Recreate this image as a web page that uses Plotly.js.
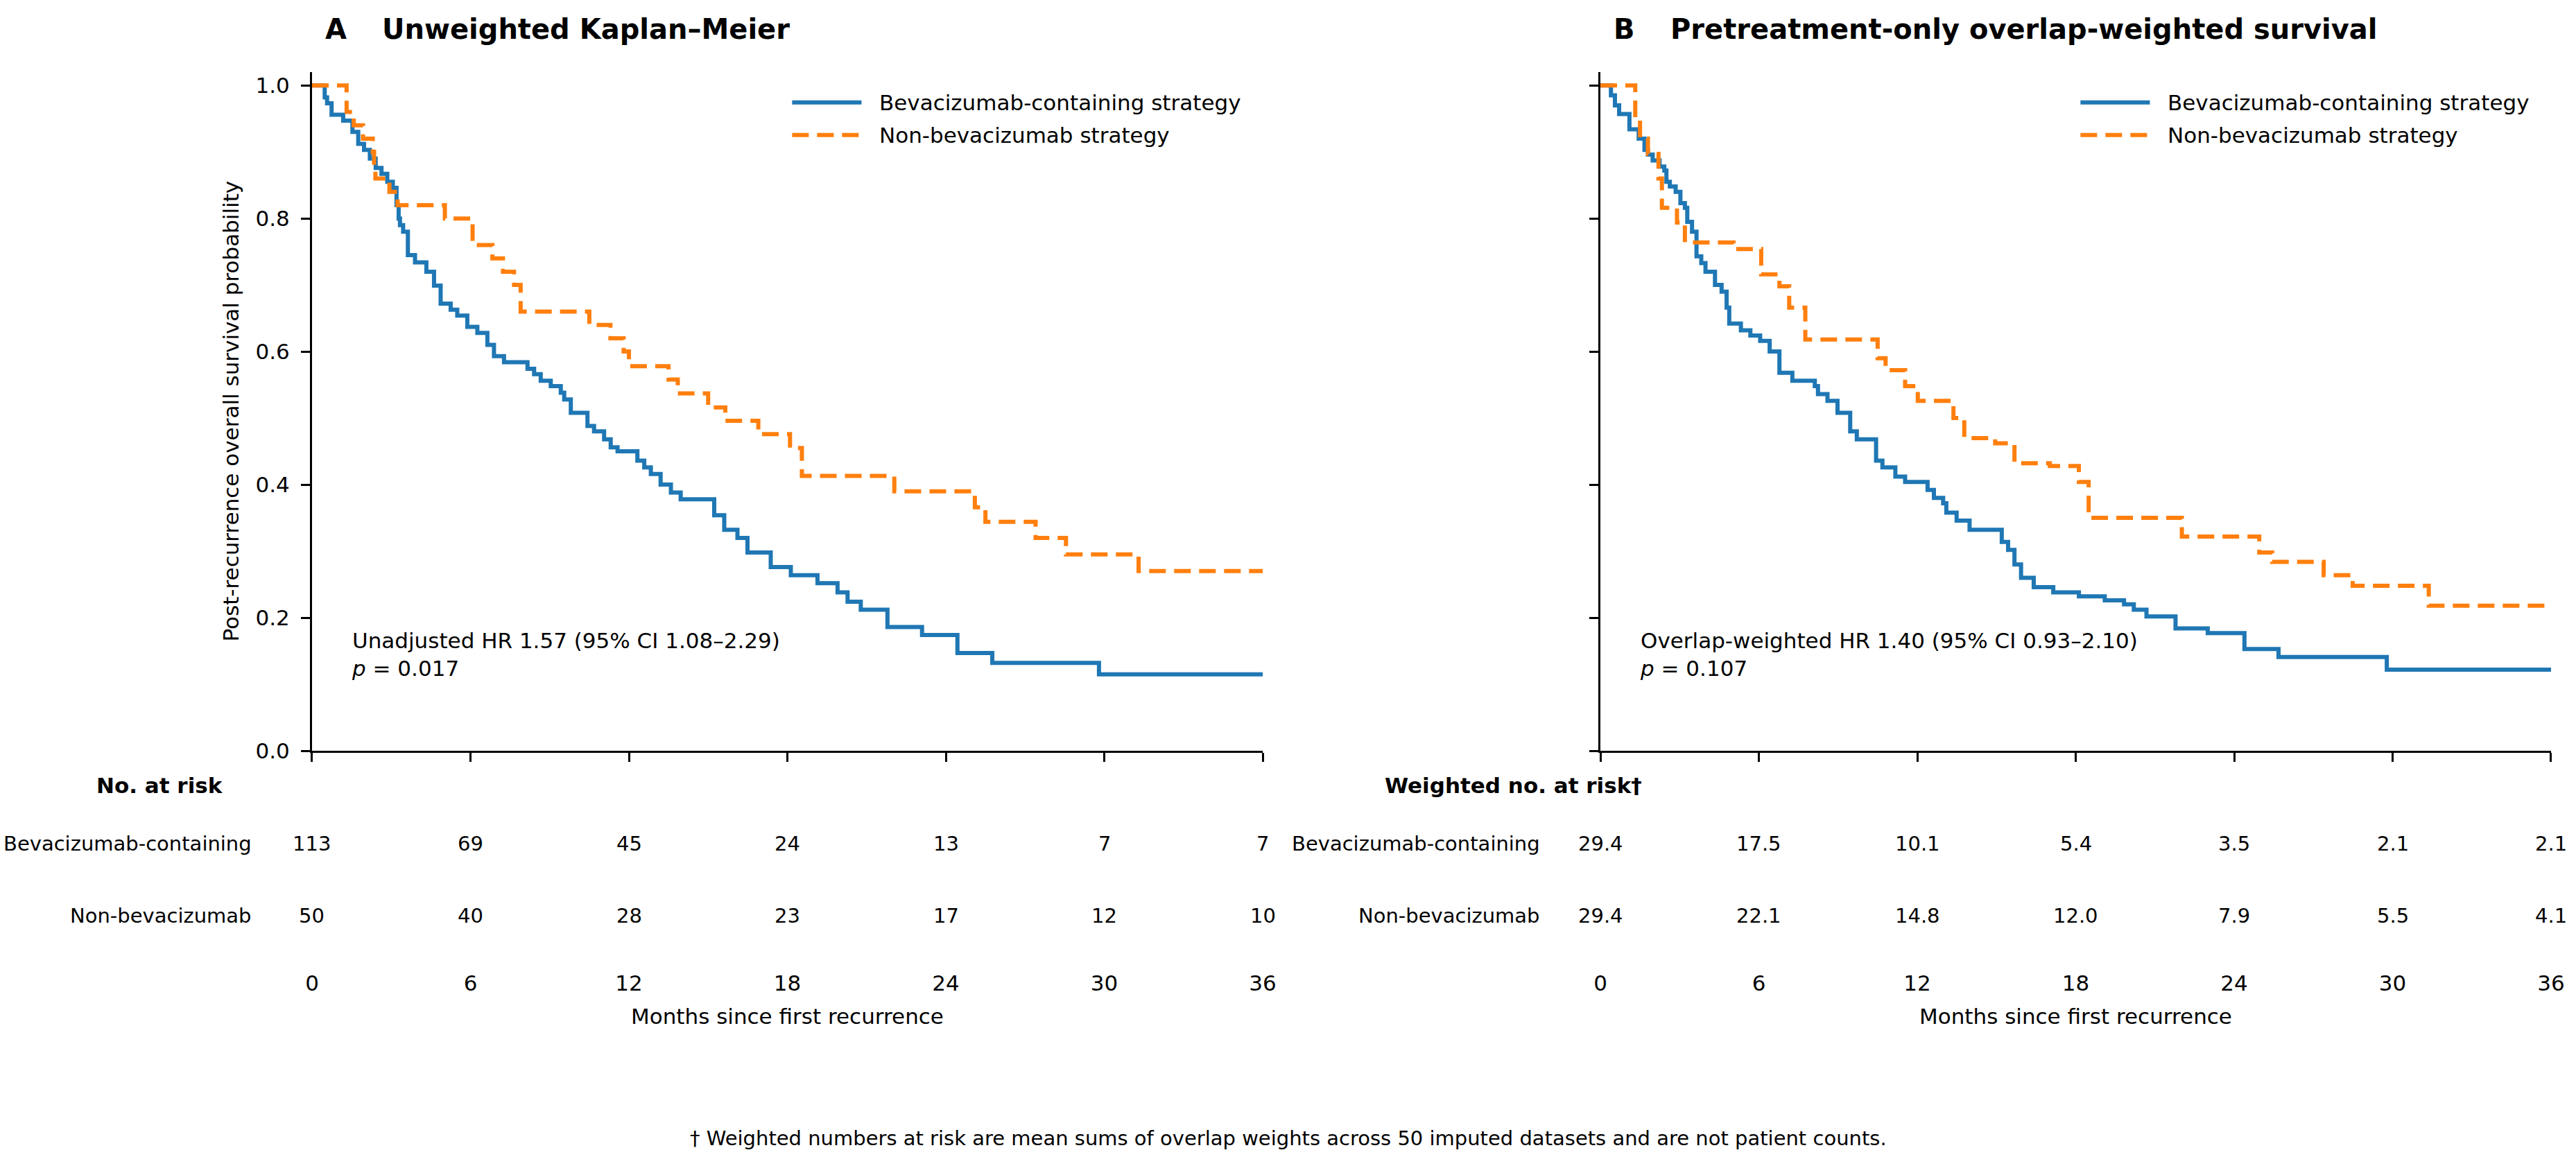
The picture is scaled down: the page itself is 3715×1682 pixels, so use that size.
<!DOCTYPE html>
<html>
<head>
<meta charset="utf-8">
<script src="https://cdn.plot.ly/plotly-3.0.1.min.js"></script>
<style>
  html, body { margin: 0; padding: 0; background: #fff; }
  #chart { width: 3715px; height: 1682px; }
</style>
</head>
<body>
<div id="chart"></div>
<script>
/* ─── Kaplan–Meier panels: unweighted (A) and overlap-weighted (B) ─── */

// Panel A – unweighted KM step points (months, survival)
const bevA_t = [0, 0.48, 0.57, 0.74, 1.18, 1.53, 1.75, 1.97, 2.19, 2.41, 2.63, 2.85, 3.06, 3.2, 3.28, 3.33, 3.45, 3.63,
    3.9, 4.33, 4.62, 4.87, 5.25, 5.5, 5.88, 6.26, 6.64, 6.89, 7.27, 8.16, 8.41, 8.66, 9.04, 9.42, 9.55, 9.8, 10.43,
    10.68, 11.06, 11.31, 11.57, 12.32, 12.58, 12.83, 13.2, 13.59, 13.96, 15.23, 15.61, 16.11, 16.49, 17.37, 18.13,
    19.14, 19.9, 20.28, 20.78, 21.79, 23.1, 24.44, 25.76, 29.8, 36];
const bevA_s = [1.0, 0.982, 0.973, 0.956, 0.947, 0.93, 0.912, 0.903, 0.89, 0.876, 0.867, 0.855, 0.846, 0.82, 0.80,
    0.79, 0.78, 0.745, 0.734, 0.72, 0.699, 0.672, 0.663, 0.654, 0.637, 0.628, 0.61, 0.593, 0.584,
    0.574, 0.566, 0.556, 0.548, 0.538, 0.528, 0.508, 0.488, 0.48, 0.468, 0.456, 0.45, 0.436, 0.426, 0.416, 0.40,
    0.388, 0.378, 0.354, 0.332, 0.32, 0.298, 0.276, 0.264, 0.252, 0.238, 0.224, 0.212, 0.186, 0.174, 0.147, 0.132,
    0.115, 0.115];
const nonA_t = [0, 1.31, 1.58, 1.93, 2.3, 2.35, 2.4, 2.93, 3.24, 5.03, 6.08, 6.83, 7.23, 7.65, 7.9, 10.5, 11.3, 11.8,
    12.0, 13.5, 13.85, 15.0, 15.65, 16.9, 18.1, 18.55, 22.05, 25.1, 25.5, 27.4, 28.55, 31.3, 36];
const nonA_s = [1.0, 0.96, 0.94, 0.92, 0.90, 0.88, 0.86, 0.84, 0.82, 0.80, 0.76, 0.74, 0.72, 0.70, 0.66, 0.64, 0.62,
    0.60, 0.578, 0.558, 0.537, 0.516, 0.496, 0.476, 0.455, 0.413, 0.39, 0.366, 0.344, 0.32, 0.295, 0.27, 0.27];

// Panel B – overlap-weighted step points
const bevB_t = [0, 0.4, 0.55, 0.71, 1.1, 1.45, 1.67, 1.8, 1.98, 2.24, 2.42, 2.5, 2.63, 2.85, 3.03, 3.2, 3.29, 3.47,
    3.64, 3.82, 3.98, 4.34, 4.59, 4.78, 4.88, 5.32, 5.68, 6.05, 6.41, 6.78, 7.27, 8.12, 8.24, 8.6, 8.98, 9.46, 9.71,
    10.44, 10.68, 11.17, 11.54, 12.39, 12.63, 12.98, 13.1, 13.49, 13.98, 15.2, 15.44, 15.68, 15.93, 16.41, 17.15,
    18.12, 19.1, 19.83, 20.2, 20.68, 21.78, 23.0, 24.39, 25.68, 29.78, 36];
const bevB_s = [1.0, 0.985, 0.97, 0.957, 0.934, 0.92, 0.903, 0.896, 0.887, 0.878, 0.872, 0.855, 0.848, 0.84, 0.823,
    0.816, 0.795, 0.78, 0.743, 0.733, 0.72, 0.70, 0.69, 0.666, 0.642, 0.632, 0.624, 0.616, 0.60, 0.568, 0.556, 0.548,
    0.536, 0.526, 0.508, 0.48, 0.468, 0.436, 0.426, 0.412, 0.404, 0.392, 0.38, 0.372, 0.358, 0.346, 0.332, 0.314,
    0.302, 0.28, 0.26, 0.246, 0.238, 0.232, 0.226, 0.22, 0.212, 0.202, 0.184, 0.177, 0.153, 0.141, 0.122, 0.122];
const nonB_t = [0, 1.32, 1.5, 1.8, 2.2, 2.33, 2.9, 3.2, 5.04, 6.09, 6.78, 7.15, 7.76, 10.5, 10.8, 11.54, 12.02,
    13.37, 13.78, 14.95, 15.68, 17.02, 18.12, 18.49, 22.02, 24.95, 25.44, 27.39, 28.49, 31.37, 36];
const nonB_s = [1.0, 0.95, 0.92, 0.897, 0.86, 0.816, 0.794, 0.764, 0.754, 0.716, 0.698, 0.666, 0.618, 0.59, 0.572,
    0.548, 0.526, 0.50, 0.47, 0.462, 0.432, 0.428, 0.404, 0.35, 0.322, 0.298, 0.284, 0.264, 0.248, 0.218, 0.218];

// Numbers at risk
const riskTimes = [0, 6, 12, 18, 24, 30, 36];
const riskBevA = [113, 69, 45, 24, 13, 7, 7];
const riskNonA = [50, 40, 28, 23, 17, 12, 10];
const riskBevB = [29.4, 17.5, 10.1, 5.4, 3.5, 2.1, 2.1];
const riskNonB = [29.4, 22.1, 14.8, 12.0, 7.9, 5.5, 4.1];
const yTicks = [0, 0.2, 0.4, 0.6, 0.8, 1.0];

const BLUE = '#1f77b4';
const ORANGE = '#ff7f0e';
const FONT = 'DejaVu Sans, Verdana, sans-serif';
const LEG_BEV = 'Bevacizumab-containing strategy';
const LEG_NON = 'Non-bevacizumab strategy';

function stepTrace(t, s, color, dashed, xa, ya, name) {
    return {
        x: t, y: s, xaxis: xa, yaxis: ya, name: name,
        type: 'scatter', mode: 'lines',
        line: { color: color, width: 6, shape: 'hv', dash: dashed ? '24px,12px' : 'solid' },
        showlegend: false, hoverinfo: 'skip',
    };
}

const traces = [
    stepTrace(bevA_t, bevA_s, BLUE, false, 'x', 'y', LEG_BEV),
    stepTrace(nonA_t, nonA_s, ORANGE, true, 'x', 'y', LEG_NON),
    stepTrace(bevB_t, bevB_s, BLUE, false, 'x2', 'y2', LEG_BEV),
    stepTrace(nonB_t, nonB_s, ORANGE, true, 'x2', 'y2', LEG_NON),
];

const Y_DOMAIN = [0.3561, 0.9382];

function xAxis(domain, anchor) {
    return {
        domain: domain, anchor: anchor, range: [0, 36],
        tickvals: riskTimes, ticks: 'outside', ticklen: 13, tickwidth: 3, tickcolor: '#000',
        ticklabelstandoff: 293,
        showline: true, linecolor: '#000', linewidth: 3,
        showgrid: false, zeroline: false,
        tickfont: { family: FONT, size: 31, color: '#000' },
    };
}

function yAxis(anchor, labels) {
    return {
        domain: Y_DOMAIN, anchor: anchor, range: [0, 1.02],
        tickvals: yTicks, tickformat: '.1f', showticklabels: labels,
        ticks: 'outside', ticklen: 13, tickwidth: 3, tickcolor: '#000',
        ticklabelstandoff: 10,
        showline: true, linecolor: '#000', linewidth: 3,
        showgrid: false, zeroline: false,
        tickfont: { family: FONT, size: 31, color: '#000' },
    };
}

function txt(text, x, y, xref, yref, opts) {
    return Object.assign({
        text: text, x: x, y: y, xref: xref, yref: yref,
        showarrow: false, xanchor: 'center', yanchor: 'middle',
        font: { family: FONT, size: 31, color: '#000' },
    }, opts || {});
}

// Per-panel text: titles, legend, HR box, risk table, axis titles
function panelExtras(xa, ya, letter, title, hr, pval, header, bevRisk, nonRisk, fmt) {
    const xd = xa + ' domain';
    const ann = [];
    const shp = [];
    const big = { family: FONT, size: 40, color: '#000' };
    const small = { family: FONT, size: 29, color: '#000' };

    ann.push(txt('<b>' + letter + '</b>', 0.0124, 0.975, xd, 'paper', { xanchor: 'left', font: big }));
    ann.push(txt('<b>' + title + '</b>', 0.0722, 0.975, xd, 'paper', { xanchor: 'left', font: big }));

    // legend
    shp.push({ type: 'line', xref: xd, yref: ya, x0: 0.505, x1: 0.578, y0: 0.9745, y1: 0.9745,
        line: { color: BLUE, width: 6 } });
    shp.push({ type: 'line', xref: xd, yref: ya, x0: 0.505, x1: 0.578, y0: 0.9255, y1: 0.9255,
        line: { color: ORANGE, width: 6, dash: '24px,12px' } });
    ann.push(txt(LEG_BEV, 0.595, 0.9745, xd, ya, { xanchor: 'left' }));
    ann.push(txt(LEG_NON, 0.595, 0.9255, xd, ya, { xanchor: 'left' }));

    ann.push(txt(hr + '<br><i>p</i> = ' + pval, 0.04, 0.145, xd, ya, { xanchor: 'left', align: 'left' }));

    // at-risk table
    ann.push(txt('<b>' + header + '</b>', -0.2285, 0.3264, xd, 'paper', { xanchor: 'left' }));
    ann.push(txt('Bevacizumab-containing', -0.062, 0.2765, xd, 'paper', { xanchor: 'right', font: small }));
    ann.push(txt('Non-bevacizumab', -0.062, 0.2147, xd, 'paper', { xanchor: 'right', font: small }));
    riskTimes.forEach((t, i) => {
        ann.push(txt(fmt(bevRisk[i]), t, 0.2765, xa, 'paper', { font: small }));
        ann.push(txt(fmt(nonRisk[i]), t, 0.2147, xa, 'paper', { font: small }));
    });

    ann.push(txt('Months since first recurrence', 0.5, 0.1284, xd, 'paper'));
    return { ann, shp };
}

const pA = panelExtras('x', 'y', 'A', 'Unweighted Kaplan–Meier',
    'Unadjusted HR 1.57 (95% CI 1.08–2.29)', '0.017', 'No. at risk', riskBevA, riskNonA, v => String(v));
const pB = panelExtras('x2', 'y2', 'B', 'Pretreatment-only overlap-weighted survival',
    'Overlap-weighted HR 1.40 (95% CI 0.93–2.10)', '0.107', 'Weighted no. at risk†', riskBevB, riskNonB,
    v => v.toFixed(1));

const annotations = pA.ann.concat(pB.ann);
annotations.push(txt('Post-recurrence overall survival probability', -0.0853, 0.5, 'x domain', 'y domain',
    { textangle: -90 }));
annotations.push(txt('† Weighted numbers at risk are mean sums of overlap weights across 50 imputed datasets and are not patient counts.',
    0.5, 0.0238, 'paper', 'paper', { font: { family: FONT, size: 29, color: '#000' } }));

const layout = {
    width: 3715, height: 1682, autosize: false,
    margin: { t: 0, r: 0, b: 0, l: 0 },
    paper_bgcolor: '#fff', plot_bgcolor: '#fff',
    font: { family: FONT, size: 31, color: '#000' },
    showlegend: false,
    xaxis: xAxis([0.12113, 0.49018], 'y'),
    yaxis: yAxis('x', true),
    xaxis2: xAxis([0.62127, 0.99031], 'y2'),
    yaxis2: yAxis('x2', false),
    shapes: pA.shp.concat(pB.shp),
    annotations: annotations,
};

Plotly.newPlot('chart', traces, layout, { staticPlot: true, displayModeBar: false });
</script>
</body>
</html>
